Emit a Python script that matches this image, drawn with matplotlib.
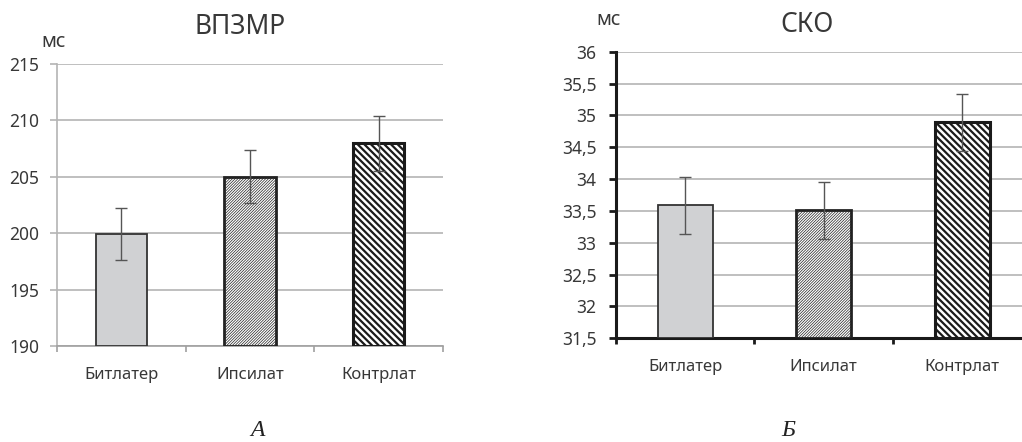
import matplotlib
matplotlib.use("Agg")
import matplotlib.pyplot as plt
import numpy as np

plt.rcParams['font.family'] = ['Noto Sans', 'DejaVu Sans']

categories = ['Битлатер', 'Ипсилат', 'Контрлат']

# ВПЗМР, мс
vpzmr = [199.9, 205.0, 207.95]
vpzmr_err = [2.3, 2.35, 2.45]
vpzmr_ticks = [190, 195, 200, 205, 210, 215]

# СКО, мс
sko = [33.59, 33.51, 34.89]
sko_err = [0.45, 0.45, 0.45]
sko_ticks = [31.5, 32, 32.5, 33, 33.5, 34, 34.5, 35, 35.5, 36]

txt = '#383838'
fig = plt.figure(figsize=(10.22, 4.42), dpi=100)


def draw_bars(ax, vals, errs):
    x = np.arange(len(vals))
    styles = [
        dict(fc='#d0d1d3', ec='#333333', lw=1.3, hatch=None, hc='#333333', hlw=1.0),
        dict(fc='white', ec='#222222', lw=2.0, hatch='/' * 12, hc='#666666', hlw=0.5),
        dict(fc='white', ec='#1a1a1a', lw=2.2, hatch='\\' * 5, hc='#1a1a1a', hlw=1.6),
    ]
    y0 = ax.get_ylim()[0]
    for i, s in enumerate(styles):
        with plt.rc_context({'hatch.linewidth': s['hlw'], 'hatch.color': s['hc']}):
            b = ax.bar(x[i], vals[i] - y0, bottom=y0,
                       width=0.4, color=s['fc'], edgecolor=s['ec'],
                       linewidth=s['lw'], hatch=s['hatch'], zorder=3)
        for p in b:
            if hasattr(p, 'set_hatch_linewidth'):
                p.set_hatch_linewidth(s['hlw'])
    ax.errorbar(x, vals, yerr=errs, fmt='none', ecolor='#555555',
                elinewidth=1.0, capsize=4, capthick=1.0, zorder=4)
    ax.set_xlim(-0.5, len(vals) - 0.5)
    ax.set_xticks(x)
    ax.set_xticklabels(categories, fontsize=12, color=txt)
    ax.set_xticks(np.arange(len(vals) + 1) - 0.5, minor=True)
    ax.tick_params(axis='x', which='major', length=0, pad=15)
    ax.grid(axis='y', color='#b4b4b4', lw=1.2, zorder=0)
    for s in ['top', 'right']:
        ax.spines[s].set_visible(False)


# --- A: ВПЗМР ---
ax1 = fig.add_axes([0.0558, 0.2172, 0.3777, 0.639])
ax1.set_ylim(190, 215)
draw_bars(ax1, vpzmr, vpzmr_err)
ax1.set_yticks(vpzmr_ticks)
ax1.set_yticklabels([str(t) for t in vpzmr_ticks], fontsize=12.5, color=txt)
ax1.tick_params(axis='y', length=5, color='#b4b4b4', width=1.2, pad=8)
ax1.tick_params(axis='x', which='minor', length=4.5, color='#a0a0a0', width=1.2)
ax1.spines['left'].set_color('#b4b4b4')
ax1.spines['bottom'].set_color('#a0a0a0')
ax1.spines['left'].set_linewidth(1.2)
ax1.spines['bottom'].set_linewidth(1.2)
fig.text(0.235, 0.94, 'ВПЗМР', ha='center', va='center', fontsize=19, color=txt)
fig.text(0.052, 0.905, 'мс', ha='center', va='center', fontsize=14, color=txt)
fig.text(0.252, 0.027, 'А', ha='center', va='center', fontsize=17,
         family='Liberation Serif', style='italic', color='#222222')

# --- Б: СКО ---
ax2 = fig.add_axes([0.6027, 0.2346, 0.4066, 0.6484])
ax2.set_ylim(31.5, 36)
draw_bars(ax2, sko, sko_err)
ax2.set_yticks(sko_ticks)
ax2.set_yticklabels([('%g' % t).replace('.', ',') for t in sko_ticks],
                    fontsize=12.5, color=txt)
ax2.tick_params(axis='y', length=5, color='#1a1a1a', width=2, pad=9)
ax2.tick_params(axis='x', which='minor', length=4.5, color='#1a1a1a', width=2)
ax2.spines['left'].set_color('#1a1a1a')
ax2.spines['bottom'].set_color('#1a1a1a')
ax2.spines['left'].set_linewidth(2.2)
ax2.spines['bottom'].set_linewidth(2.2)
fig.text(0.79, 0.943, 'СКО', ha='center', va='center', fontsize=19, color=txt)
fig.text(0.595, 0.955, 'мс', ha='center', va='center', fontsize=14, color=txt)
fig.text(0.771, 0.027, 'Б', ha='center', va='center', fontsize=17,
         family='Liberation Serif', style='italic', color='#222222')

fig.savefig('out.png', dpi=100)
